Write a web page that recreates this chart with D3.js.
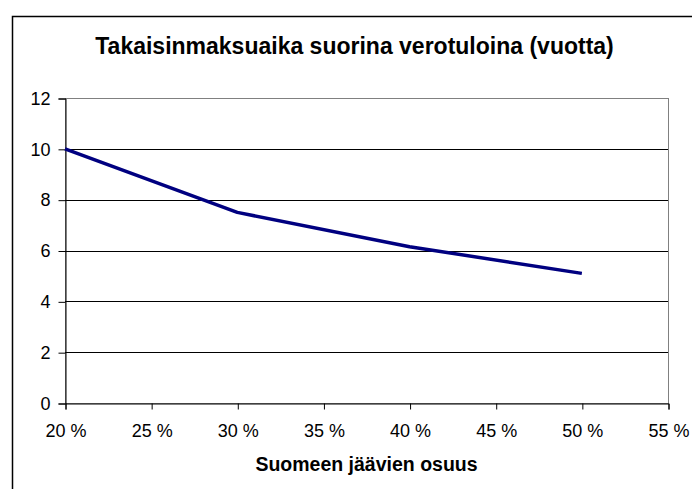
<!DOCTYPE html>
<html>
<head>
<meta charset="utf-8">
<script src="https://cdn.jsdelivr.net/npm/d3@7"></script>
<style>
  body { margin: 0; background: #fff; }
  text { font-family: "Liberation Sans", Arial, sans-serif; fill: #000; }
</style>
</head>
<body>
<script>
const WIDTH = 692;
const HEIGHT = 489;

const TITLE = 'Takaisinmaksuaika suorina verotuloina (vuotta)';
const X_TITLE = 'Suomeen jäävien osuus';

// share staying in Finland -> payback time in years
const shares = [0.20, 0.30, 0.40, 0.50];
const years = [10, 7.5, 6.15, 5.1];

const xTicks = [0.20, 0.25, 0.30, 0.35, 0.40, 0.45, 0.50, 0.55];
const yTicks = [0, 2, 4, 6, 8, 10, 12];

const plot = {left: 65, right: 668, top: 98, bottom: 403};

const svg = d3.select('body')
  .append('svg')
  .attr('width', WIDTH)
  .attr('height', HEIGHT);

svg.append('rect')
  .attr('width', WIDTH)
  .attr('height', HEIGHT)
  .attr('fill', '#fff');

// outer chart border (runs off the right and bottom edges)
svg.append('rect')
  .attr('x', 12.5)
  .attr('y', 16.5)
  .attr('width', 720)
  .attr('height', 520)
  .attr('fill', 'none')
  .attr('stroke', '#000')
  .attr('stroke-width', 1.5);

const x = d3.scaleLinear().domain([0.20, 0.55]).range([plot.left, plot.right]);
const y = d3.scaleLinear().domain([0, 12]).range([plot.bottom, plot.top]);

// plot area border
svg.append('rect')
  .attr('x', plot.left + 0.5)
  .attr('y', plot.top + 0.5)
  .attr('width', plot.right - plot.left)
  .attr('height', plot.bottom - plot.top)
  .attr('fill', 'none')
  .attr('stroke', '#808080');

// gridlines
svg.append('g')
  .selectAll('line')
  .data(yTicks.filter(d => d > 0 && d < 12))
  .join('line')
  .attr('x1', plot.left)
  .attr('x2', plot.right)
  .attr('y1', d => Math.round(y(d)) + 0.5)
  .attr('y2', d => Math.round(y(d)) + 0.5)
  .attr('stroke', '#000');

const yAxis = svg.append('g')
  .attr('transform', `translate(${plot.left + 0.5},0.5)`)
  .call(d3.axisLeft(y).tickValues(yTicks).tickSize(7).tickPadding(8));

const xAxis = svg.append('g')
  .attr('transform', `translate(0.5,${plot.bottom + 0.5})`)
  .call(d3.axisBottom(x).tickValues(xTicks).tickSize(6).tickPadding(15)
    .tickFormat(d => Math.round(d * 100) + ' %'));

[yAxis, xAxis].forEach(a => {
  a.attr('font-size', null).attr('font-family', null);
  a.select('.domain').attr('stroke', '#000');
  a.selectAll('.tick line').attr('stroke', '#000');
  a.selectAll('.tick text')
    .style('font-family', '"Liberation Sans", Arial, sans-serif')
    .style('font-size', '18px')
    .attr('fill', '#000');
});

// data line
svg.append('path')
  .datum(shares.map((s, i) => [s, years[i]]))
  .attr('fill', 'none')
  .attr('stroke', '#000080')
  .attr('stroke-width', 3.5)
  .attr('stroke-linejoin', 'round')
  .attr('d', d3.line().x(d => x(d[0])).y(d => y(d[1])));

svg.append('text')
  .attr('x', 354.5)
  .attr('y', 54)
  .attr('text-anchor', 'middle')
  .style('font-size', '23px')
  .style('font-weight', 'bold')
  .text(TITLE);

svg.append('text')
  .attr('x', 366.5)
  .attr('y', 471)
  .attr('text-anchor', 'middle')
  .style('font-size', '19.5px')
  .style('font-weight', 'bold')
  .text(X_TITLE);
</script>
</body>
</html>
